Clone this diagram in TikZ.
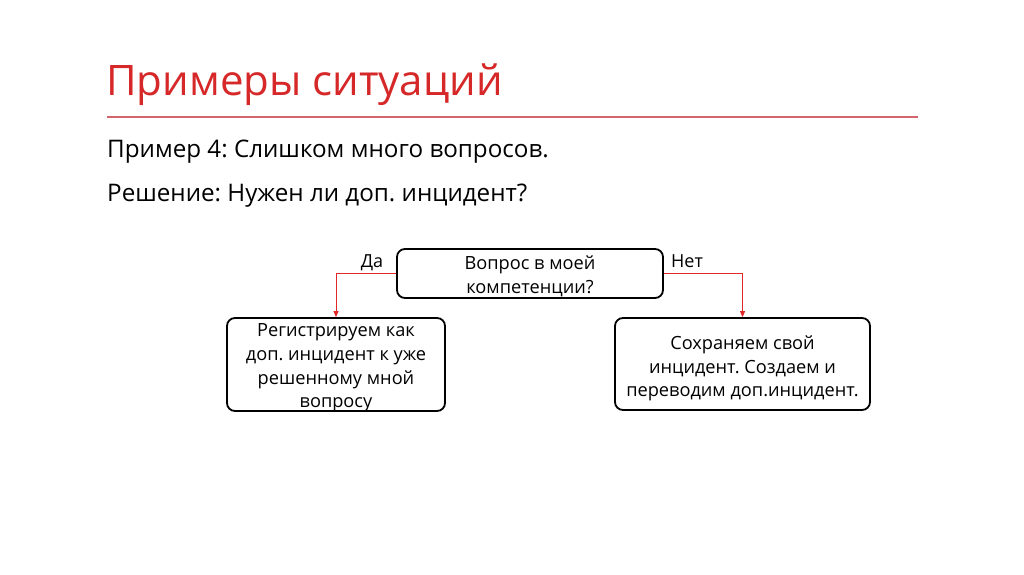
\documentclass[tikz,border=0pt]{standalone}
\usepackage{fontspec}
\setmainfont{Open Sans}
\usetikzlibrary{arrows.meta}
\definecolor{titlered}{RGB}{214,40,40}
\definecolor{linered}{RGB}{212,100,110}
\definecolor{arrred}{RGB}{225,40,40}
\tikzset{
  box/.style={draw=black, line width=1.8pt, rounded corners=8pt, inner sep=0pt},
  boxtext/.style={align=center, inner sep=0pt, font=\fontsize{18.2}{23.6}\selectfont},
  conn/.style={draw=arrred, line width=1pt, -{Triangle[length=6pt,width=5pt]}},
  lbl/.style={font=\fontsize{18}{20}\selectfont, inner sep=0pt}
}
\frenchspacing
\begin{document}
\begin{tikzpicture}[x=1pt,y=-1pt]
\useasboundingbox[fill=white] (0,0) rectangle (1024,574);
\node[anchor=base west, inner sep=0pt, text=titlered, font=\fontsize{42}{50}\selectfont] (title) at (106,95) {Примеры ситуаций};
\draw[linered, line width=1.1pt] (107,117) -- (918,117);
\node[anchor=base west, inner sep=0pt, font=\fontsize{24.2}{28}\selectfont] (t1) at (107,157) {Пример 4: Слишком много вопросов.};
\node[anchor=base west, inner sep=0pt, font=\fontsize{24.2}{28}\selectfont] (t2) at (107,201) {Решение: Нужен ли доп. инцидент?};

\node[box, minimum width=266pt, minimum height=49pt] (q) at (530,273.5) {};
\node[boxtext] (qt) at ([yshift=-3pt]q.center) {Вопрос в моей\\компетенции?};
\node[box, minimum width=218pt, minimum height=93pt] (l) at (336,364.5) {};
\node[boxtext] (lt) at ([yshift=-3.5pt]l.center) {Регистрируем как\\доп. инцидент к уже\\решенному мной\\вопросу};
\node[box, minimum width=255pt, minimum height=92pt] (r) at (742.5,364) {};
\node[boxtext] (rt) at ([yshift=-4.5pt]r.center) {Сохраняем свой\\инцидент. Создаем и\\переводим доп.инцидент.};

\draw[conn] (q.west) -| (l.north);
\draw[conn] (q.east) -| (r.north);
\node[lbl, anchor=base] (da) at (372,267) {Да};
\node[lbl, anchor=base west] (net) at (671,267) {Нет};
\end{tikzpicture}
\end{document}
